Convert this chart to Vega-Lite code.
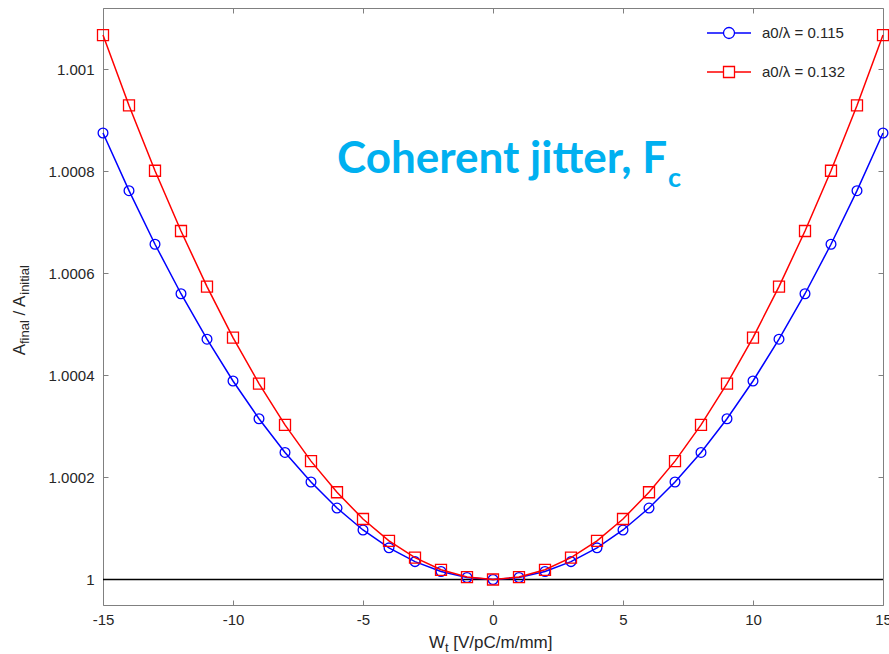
{
  "$schema": "https://vega.github.io/schema/vega-lite/v6.json",
  "width": 780,
  "height": 597,
  "autosize": {"type": "none"},
  "padding": {"left": 103, "top": 8, "right": 6, "bottom": 49},
  "background": "white",
  "config": {
    "view": {"stroke": "#808080", "strokeWidth": 1},
    "font": "Liberation Sans",
    "axis": {"grid": false, "domain": false, "tickColor": "#808080", "tickSize": -5, "tickWidth": 1, "labelFont": "Liberation Sans", "labelFontSize": 15, "labelColor": "#262626", "title": null, "labelFlush": false}
  },
  "datasets": {
    "curves": [
      {"x": -15, "y": 1.000875, "s": "a0/λ = 0.115"},
      {"x": -14, "y": 1.000762, "s": "a0/λ = 0.115"},
      {"x": -13, "y": 1.000657, "s": "a0/λ = 0.115"},
      {"x": -12, "y": 1.00056, "s": "a0/λ = 0.115"},
      {"x": -11, "y": 1.000471, "s": "a0/λ = 0.115"},
      {"x": -10, "y": 1.000389, "s": "a0/λ = 0.115"},
      {"x": -9, "y": 1.000315, "s": "a0/λ = 0.115"},
      {"x": -8, "y": 1.000249, "s": "a0/λ = 0.115"},
      {"x": -7, "y": 1.000191, "s": "a0/λ = 0.115"},
      {"x": -6, "y": 1.00014, "s": "a0/λ = 0.115"},
      {"x": -5, "y": 1.000097, "s": "a0/λ = 0.115"},
      {"x": -4, "y": 1.000062, "s": "a0/λ = 0.115"},
      {"x": -3, "y": 1.000035, "s": "a0/λ = 0.115"},
      {"x": -2, "y": 1.0000156, "s": "a0/λ = 0.115"},
      {"x": -1, "y": 1.0000039, "s": "a0/λ = 0.115"},
      {"x": 0, "y": 1.0, "s": "a0/λ = 0.115"},
      {"x": 1, "y": 1.0000039, "s": "a0/λ = 0.115"},
      {"x": 2, "y": 1.0000156, "s": "a0/λ = 0.115"},
      {"x": 3, "y": 1.000035, "s": "a0/λ = 0.115"},
      {"x": 4, "y": 1.000062, "s": "a0/λ = 0.115"},
      {"x": 5, "y": 1.000097, "s": "a0/λ = 0.115"},
      {"x": 6, "y": 1.00014, "s": "a0/λ = 0.115"},
      {"x": 7, "y": 1.000191, "s": "a0/λ = 0.115"},
      {"x": 8, "y": 1.000249, "s": "a0/λ = 0.115"},
      {"x": 9, "y": 1.000315, "s": "a0/λ = 0.115"},
      {"x": 10, "y": 1.000389, "s": "a0/λ = 0.115"},
      {"x": 11, "y": 1.000471, "s": "a0/λ = 0.115"},
      {"x": 12, "y": 1.00056, "s": "a0/λ = 0.115"},
      {"x": 13, "y": 1.000657, "s": "a0/λ = 0.115"},
      {"x": 14, "y": 1.000762, "s": "a0/λ = 0.115"},
      {"x": 15, "y": 1.000875, "s": "a0/λ = 0.115"},
      {"x": -15, "y": 1.001067, "s": "a0/λ = 0.132"},
      {"x": -14, "y": 1.000929, "s": "a0/λ = 0.132"},
      {"x": -13, "y": 1.000801, "s": "a0/λ = 0.132"},
      {"x": -12, "y": 1.000683, "s": "a0/λ = 0.132"},
      {"x": -11, "y": 1.000574, "s": "a0/λ = 0.132"},
      {"x": -10, "y": 1.000474, "s": "a0/λ = 0.132"},
      {"x": -9, "y": 1.000384, "s": "a0/λ = 0.132"},
      {"x": -8, "y": 1.000303, "s": "a0/λ = 0.132"},
      {"x": -7, "y": 1.000232, "s": "a0/λ = 0.132"},
      {"x": -6, "y": 1.000171, "s": "a0/λ = 0.132"},
      {"x": -5, "y": 1.0001185, "s": "a0/λ = 0.132"},
      {"x": -4, "y": 1.0000758, "s": "a0/λ = 0.132"},
      {"x": -3, "y": 1.0000427, "s": "a0/λ = 0.132"},
      {"x": -2, "y": 1.000019, "s": "a0/λ = 0.132"},
      {"x": -1, "y": 1.0000047, "s": "a0/λ = 0.132"},
      {"x": 0, "y": 1.0, "s": "a0/λ = 0.132"},
      {"x": 1, "y": 1.0000047, "s": "a0/λ = 0.132"},
      {"x": 2, "y": 1.000019, "s": "a0/λ = 0.132"},
      {"x": 3, "y": 1.0000427, "s": "a0/λ = 0.132"},
      {"x": 4, "y": 1.0000758, "s": "a0/λ = 0.132"},
      {"x": 5, "y": 1.0001185, "s": "a0/λ = 0.132"},
      {"x": 6, "y": 1.000171, "s": "a0/λ = 0.132"},
      {"x": 7, "y": 1.000232, "s": "a0/λ = 0.132"},
      {"x": 8, "y": 1.000303, "s": "a0/λ = 0.132"},
      {"x": 9, "y": 1.000384, "s": "a0/λ = 0.132"},
      {"x": 10, "y": 1.000474, "s": "a0/λ = 0.132"},
      {"x": 11, "y": 1.000574, "s": "a0/λ = 0.132"},
      {"x": 12, "y": 1.000683, "s": "a0/λ = 0.132"},
      {"x": 13, "y": 1.000801, "s": "a0/λ = 0.132"},
      {"x": 14, "y": 1.000929, "s": "a0/λ = 0.132"},
      {"x": 15, "y": 1.001067, "s": "a0/λ = 0.132"}
    ],
    "notes": [
      {"role": "title", "t": "Coherent jitter, F", "x": -6.0, "y": 1.0007967},
      {"role": "titlesub", "t": "c", "x": 6.73, "y": 1.0007686},
      {"role": "xt", "t": "W", "x": -2.4615, "y": 0.99986667},
      {"role": "xtsub", "t": "t", "x": -1.846, "y": 0.99985882},
      {"role": "xt", "t": "[V/pC/m/mm]", "x": -1.527, "y": 0.99986667},
      {"role": "yt", "t": "A", "x": -18.0, "y": 1.00043922},
      {"role": "ytsub", "t": "final", "x": -17.846, "y": 1.00046137},
      {"role": "yt", "t": "/ A", "x": -18.0, "y": 1.00051725},
      {"role": "ytsub", "t": "initial", "x": -17.846, "y": 1.00055804}
    ]
  },
  "resolve": {"axis": {"x": "independent", "y": "independent"}},
  "layer": [
    {
      "data": {"values": [{"v": 1}]},
      "mark": {"type": "rule", "color": "black", "strokeWidth": 1.5},
      "encoding": {
        "y": {"field": "v", "type": "quantitative", "scale": {"domain": [0.99995, 1.00112], "nice": false, "zero": false}, "axis": null}
      }
    },
    {
      "data": {"name": "curves"},
      "transform": [{"filter": "datum.s === 'a0/λ = 0.115'"}],
      "mark": {"type": "line", "strokeWidth": 1.5, "color": "#0000ff"},
      "encoding": {
        "x": {"field": "x", "type": "quantitative", "scale": {"domain": [-15, 15], "nice": false, "zero": false},
              "axis": {"orient": "bottom", "values": [-15, -10, -5, 0, 5, 10, 15], "labelExpr": "'' + datum.value", "labelPadding": 12}},
        "y": {"field": "y", "type": "quantitative", "scale": {"domain": [0.99995, 1.00112], "nice": false, "zero": false},
              "axis": {"orient": "left", "values": [1, 1.0002, 1.0004, 1.0006, 1.0008, 1.001], "format": ".4~f", "labelPadding": 14}}
      }
    },
    {
      "data": {"name": "curves"},
      "transform": [{"filter": "datum.s === 'a0/λ = 0.115'"}],
      "mark": {"type": "point", "shape": "circle", "filled": false, "strokeWidth": 1.3, "opacity": 1, "color": "#0000ff", "size": 95},
      "encoding": {
        "x": {"field": "x", "type": "quantitative", "scale": {"domain": [-15, 15], "nice": false, "zero": false},
              "axis": {"orient": "top", "values": [-15, -10, -5, 0, 5, 10, 15], "labels": false}},
        "y": {"field": "y", "type": "quantitative", "scale": {"domain": [0.99995, 1.00112], "nice": false, "zero": false},
              "axis": {"orient": "right", "values": [1, 1.0002, 1.0004, 1.0006, 1.0008, 1.001], "labels": false}}
      }
    },
    {
      "data": {"name": "curves"},
      "transform": [{"filter": "datum.s === 'a0/λ = 0.132'"}],
      "mark": {"type": "line", "strokeWidth": 1.5, "color": "#ff0000"},
      "encoding": {
        "x": {"field": "x", "type": "quantitative", "axis": null},
        "y": {"field": "y", "type": "quantitative", "axis": null}
      }
    },
    {
      "data": {"name": "curves"},
      "transform": [{"filter": "datum.s === 'a0/λ = 0.132'"}],
      "mark": {"type": "point", "shape": "square", "filled": false, "strokeWidth": 1.3, "opacity": 1, "color": "#ff0000", "size": 121},
      "encoding": {
        "x": {"field": "x", "type": "quantitative", "axis": null},
        "y": {"field": "y", "type": "quantitative", "axis": null}
      }
    },
    {
      "data": {"name": "curves"},
      "transform": [{"filter": "false"}],
      "mark": {"type": "point", "filled": false, "strokeWidth": 1.3},
      "encoding": {
        "x": {"field": "x", "type": "quantitative", "axis": null},
        "y": {"field": "y", "type": "quantitative", "axis": null},
        "color": {"field": "s", "type": "nominal",
                  "scale": {"domain": ["a0/λ = 0.115", "a0/λ = 0.132"], "range": ["#0000ff", "#ff0000"]},
                  "legend": {
                    "orient": "none", "legendX": 615, "legendY": 14, "title": null, "padding": 0,
                    "symbolSize": 400, "labelOffset": 22, "rowPadding": 19,
                    "labelFont": "Liberation Sans", "labelFontSize": 15, "labelColor": "#262626",
                    "symbolStrokeWidth": 1.3, "symbolFillColor": "white", "symbolOpacity": 1
                  }},
        "shape": {"field": "s", "type": "nominal",
                  "scale": {"domain": ["a0/λ = 0.115", "a0/λ = 0.132"],
                            "range": ["M-2.2,0H-0.55M0.55,0H2.2M-0.55,0A0.55,0.55,0,1,1,0.55,0A0.55,0.55,0,1,1,-0.55,0Z", "M-2.2,0H-0.55M0.55,0H2.2M-0.55,-0.55H0.55V0.55H-0.55Z"]},
                  "legend": {
                    "orient": "none", "legendX": 615, "legendY": 14, "title": null, "padding": 0,
                    "symbolSize": 400, "labelOffset": 22, "rowPadding": 19,
                    "labelFont": "Liberation Sans", "labelFontSize": 15, "labelColor": "#262626",
                    "symbolStrokeWidth": 1.3, "symbolFillColor": "white", "symbolOpacity": 1
                  }}
      }
    },
    {
      "data": {"name": "notes"},
      "transform": [{"filter": "datum.role === 'title'"}],
      "mark": {"type": "text", "font": "Lato", "fontWeight": "bold", "fontSize": 44, "color": "#00b0f0", "align": "left", "baseline": "alphabetic"},
      "encoding": {
        "x": {"field": "x", "type": "quantitative", "axis": null},
        "y": {"field": "y", "type": "quantitative", "axis": null},
        "text": {"field": "t"}
      }
    },
    {
      "data": {"name": "notes"},
      "transform": [{"filter": "datum.role === 'titlesub'"}],
      "mark": {"type": "text", "font": "Lato", "fontWeight": "bold", "fontSize": 27, "color": "#00b0f0", "align": "left", "baseline": "alphabetic"},
      "encoding": {
        "x": {"field": "x", "type": "quantitative", "axis": null},
        "y": {"field": "y", "type": "quantitative", "axis": null},
        "text": {"field": "t"}
      }
    },
    {
      "data": {"name": "notes"},
      "transform": [{"filter": "datum.role === 'xt'"}],
      "mark": {"type": "text", "font": "Liberation Sans", "fontSize": 17, "color": "#262626", "align": "left", "baseline": "alphabetic"},
      "encoding": {
        "x": {"field": "x", "type": "quantitative", "axis": null},
        "y": {"field": "y", "type": "quantitative", "axis": null},
        "text": {"field": "t"}
      }
    },
    {
      "data": {"name": "notes"},
      "transform": [{"filter": "datum.role === 'xtsub'"}],
      "mark": {"type": "text", "font": "Liberation Sans", "fontSize": 13, "color": "#262626", "align": "left", "baseline": "alphabetic"},
      "encoding": {
        "x": {"field": "x", "type": "quantitative", "axis": null},
        "y": {"field": "y", "type": "quantitative", "axis": null},
        "text": {"field": "t"}
      }
    },
    {
      "data": {"name": "notes"},
      "transform": [{"filter": "datum.role === 'yt'"}],
      "mark": {"type": "text", "font": "Liberation Sans", "fontSize": 17, "color": "#262626", "align": "left", "baseline": "alphabetic", "angle": 270},
      "encoding": {
        "x": {"field": "x", "type": "quantitative", "axis": null},
        "y": {"field": "y", "type": "quantitative", "axis": null},
        "text": {"field": "t"}
      }
    },
    {
      "data": {"name": "notes"},
      "transform": [{"filter": "datum.role === 'ytsub'"}],
      "mark": {"type": "text", "font": "Liberation Sans", "fontSize": 13, "color": "#262626", "align": "left", "baseline": "alphabetic", "angle": 270},
      "encoding": {
        "x": {"field": "x", "type": "quantitative", "axis": null},
        "y": {"field": "y", "type": "quantitative", "axis": null},
        "text": {"field": "t"}
      }
    }
  ]
}
